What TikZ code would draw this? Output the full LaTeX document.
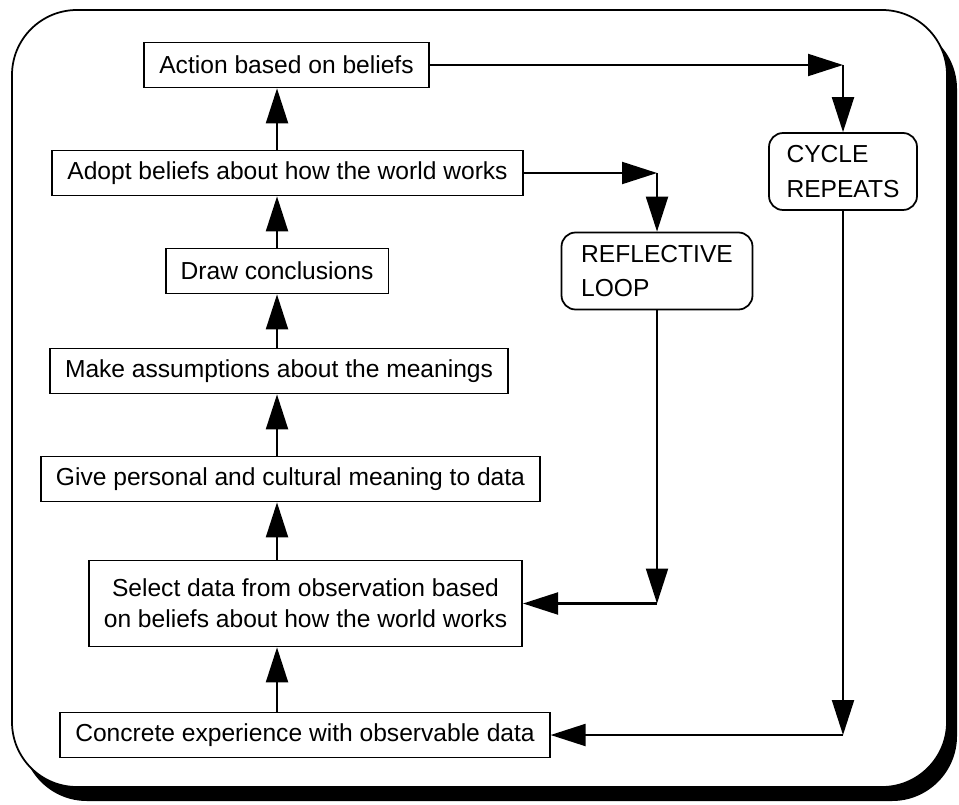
\documentclass[tikz,border=0pt]{standalone}
\usepackage{fontspec}
\setmainfont{Liberation Sans}
\usetikzlibrary{arrows.meta,positioning,calc}
\tikzset{
  stepnode/.style={rectangle,draw=black,line width=1pt,fill=white,align=center,inner xsep=0.3cm,inner ysep=0.2cm,minimum height=0.9cm,font=\fontsize{14}{17.5}\selectfont},
  loopnode/.style={stepnode,rounded corners=0.28cm,align=left,minimum height=1.54cm},
  arr/.style={-{Triangle[length=0.7cm,width=0.44cm]},line width=1.2pt},
  framebox/.style={rounded corners=1.3cm,line width=1pt}
}

\begin{document}
\begin{tikzpicture}[x=0.02cm,y=-0.02cm]
  \useasboundingbox (0,0) rectangle (959,804);
  \fill[framebox] (22,24) rectangle (957,801);
  \draw[framebox,fill=white] (12,10) rectangle (947,787);

  \node[stepnode] (act) at (286.5,65) {Action based on beliefs};
  \node[stepnode] (adopt) at (287.5,173) {Adopt beliefs about how the world works};
  \node[stepnode] (concl) at (277,271) {Draw conclusions};
  \node[stepnode] (assum) at (279,371) {Make assumptions about the meanings};
  \node[stepnode] (mean) at (290.5,479) {Give personal and cultural meaning to data};
  \node[stepnode,minimum height=1.72cm] (sel) at (305.5,603.5) {Select data from observation based\\on beliefs about how the world works};
  \node[stepnode] (conc) at (305,735) {Concrete experience with observable data};
  \node[loopnode,minimum width=3.82cm] (refl) at (657,271) {REFLECTIVE\\[2pt]LOOP};
  \node[loopnode,minimum width=2.96cm] (cyc) at (843,171.5) {CYCLE\\[2pt]REPEATS};

  \coordinate (col) at (277,0);
  \coordinate (topcorner) at (act.east -| cyc.north);
  \coordinate (adcorner) at (adopt.east -| refl.north);
  \coordinate (selcorner) at (sel.east -| refl.south);
  \coordinate (botcorner) at (conc.east -| cyc.south);

  \draw[arr] (conc.north -| col) -- (sel.south -| col);
  \draw[arr] (sel.north -| col) -- (mean.south -| col);
  \draw[arr] (mean.north -| col) -- (assum.south -| col);
  \draw[arr] (assum.north -| col) -- (concl.south -| col);
  \draw[arr] (concl.north -| col) -- (adopt.south -| col);
  \draw[arr] (adopt.north -| col) -- (act.south -| col);

  \draw[arr] (act.east) -- (topcorner); \draw[arr] (topcorner) -- (cyc.north);
  \draw[arr] (adopt.east) -- (adcorner); \draw[arr] (adcorner) -- (refl.north);
  \draw[arr] (refl.south) -- (selcorner); \draw[arr] (selcorner) -- (sel.east);
  \draw[arr] (cyc.south) -- (botcorner); \draw[arr] (botcorner) -- (conc.east);
\end{tikzpicture}
\end{document}
